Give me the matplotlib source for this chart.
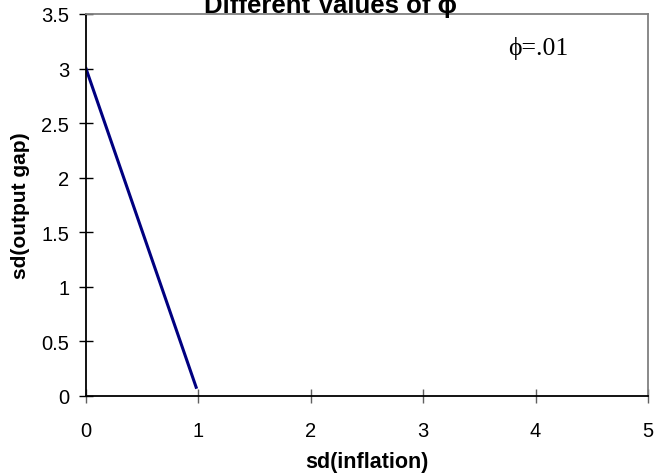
import matplotlib
matplotlib.use('Agg')
import matplotlib.pyplot as plt

# data
sd_inflation = [0.0, 0.98]
sd_output_gap = [3.0, 0.08]
x_ticks = [0, 1, 2, 3, 4, 5]
y_ticks = [0, 0.5, 1, 1.5, 2, 2.5, 3, 3.5]
y_tick_labels = ['0', '0.5', '1', '1.5', '2', '2.5', '3', '3.5']

plt.rcParams['font.family'] = ['Liberation Sans', 'DejaVu Sans']

fig = plt.figure(figsize=(6.55, 4.77), dpi=100)
ax = fig.add_axes([86/655, 1-397/477, (648-86)/655, (397-15)/477])

ax.plot(sd_inflation, sd_output_gap, color='#000080', lw=2.2)

ax.set_xlim(0, 5)
ax.set_ylim(0, 3.5)
ax.set_xticks(x_ticks)
ax.set_yticks(y_ticks)
ax.set_yticklabels(y_tick_labels)
ax.tick_params(direction='inout', length=10, width=1, labelsize=14.5)
ax.tick_params(axis='y', pad=7)
ax.tick_params(axis='x', pad=13)

ax.spines['left'].set_color('black')
ax.spines['bottom'].set_color('black')
ax.spines['top'].set_color('#808080')
ax.spines['right'].set_color('#808080')
for s in ax.spines.values():
    s.set_linewidth(1.3)
ax.tick_params(axis='x', colors='#606060', labelcolor='black')
ax.tick_params(axis='y', colors='black', labelcolor='black')

ax.set_xlabel('sd(inflation)', fontsize=15.5, fontweight='bold', labelpad=8)
ax.set_ylabel('sd(output gap)', fontsize=15, fontweight='bold', labelpad=8)

fig.text(330/655, 1-13/477, 'Different Values of \u03d5', fontsize=18.5,
         fontweight='bold', ha='center', va='baseline')
ax.text(538/655, 1-48/477, '\u03d5=.01', transform=fig.transFigure,
        fontsize=18.5, family=['Liberation Serif', 'DejaVu Serif'],
        ha='center', va='center')

fig.savefig('out.png', dpi=100)
